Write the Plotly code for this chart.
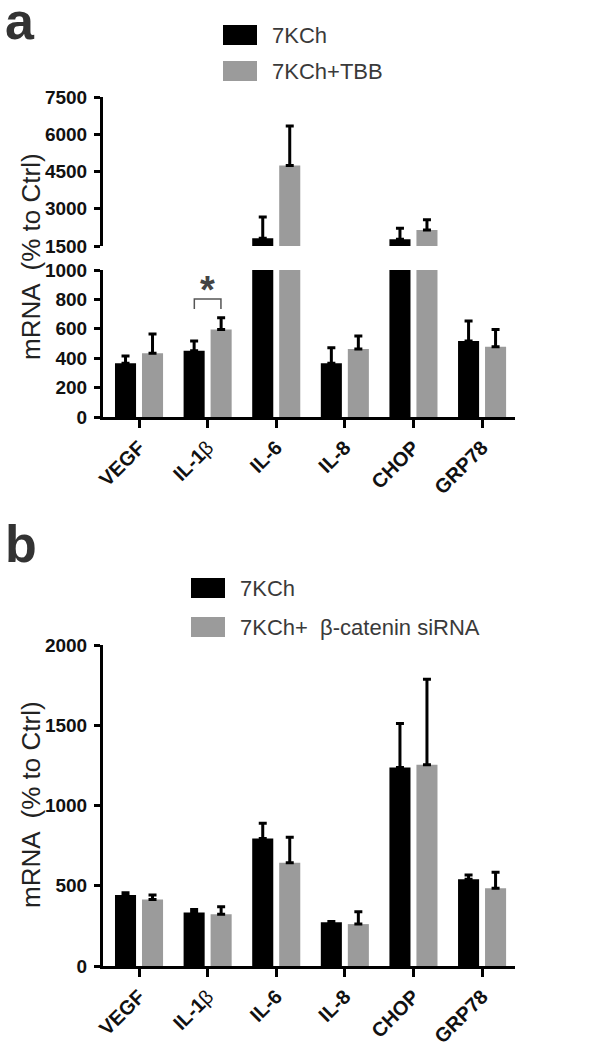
import plotly.graph_objects as go

W, H = 610, 1052

categories = ["VEGF", "IL-1β", "IL-6", "IL-8", "CHOP", "GRP78"]
tick_labels = ["VEGF", 'IL-1<span style="font-weight:normal">β</span>', "IL-6", "IL-8", "CHOP", "GRP78"]

# Panel a
a_7kch = [365, 451, 1812, 365, 1772, 517]
a_7kch_err = [50, 66, 851, 106, 446, 136]
a_tbb = [433, 596, 4743, 463, 2149, 478]
a_tbb_err = [132, 80, 1594, 88, 405, 118]

# Panel b
b_7kch = [442, 334, 794, 273, 1237, 540]
b_7kch_err = [14, 18, 96, 4, 274, 27]
b_si = [415, 323, 644, 261, 1254, 484]
b_si_err = [27, 46, 158, 77, 532, 100]

a_top_ticks = [1500, 3000, 4500, 6000, 7500]
a_bot_ticks = [0, 200, 400, 600, 800, 1000]
b_ticks = [0, 500, 1000, 1500, 2000]

BLACK = "#000000"
GRAY = "#9b9b9b"
FONT = "Liberation Sans, Arial, sans-serif"

def px(x):
    return x / W

def py(y):
    return 1 - y / H

xidx = list(range(len(categories)))

fig = go.Figure()

def add_pair(xa, ya, v1, e1, v2, e2, n1, n2):
    for vals, errs, col, name in ((v1, e1, BLACK, n1), (v2, e2, GRAY, n2)):
        fig.add_trace(go.Bar(
            x=xidx, y=vals, name=name, marker=dict(color=col, line=dict(width=0)),
            xaxis=xa, yaxis=ya, showlegend=False,
            error_y=dict(type="data", symmetric=False, array=errs,
                         arrayminus=[0] * len(errs), color=BLACK,
                         thickness=3, width=4),
        ))

add_pair("x", "y", a_7kch, a_7kch_err, a_tbb, a_tbb_err, "7KCh", "7KCh+TBB")
add_pair("x2", "y2", a_7kch, a_7kch_err, a_tbb, a_tbb_err, "7KCh", "7KCh+TBB")
add_pair("x3", "y3", b_7kch, b_7kch_err, b_si, b_si_err, "7KCh", "7KCh+ β-catenin siRNA")

xdom = [px(103), px(515)]
xrange = [-0.525, 5.48]
tickfont = dict(family=FONT, size=19, color="#111111", weight="bold")
xtickfont = dict(family=FONT, size=20, color="#111111", weight="bold")

def xaxis_visible(anchor):
    return dict(domain=xdom, range=xrange, anchor=anchor, tickmode="array",
                tickvals=xidx, ticktext=tick_labels, tickangle=-45,
                showline=True, linecolor=BLACK, linewidth=3,
                ticks="outside", ticklen=8, tickwidth=2.5, tickcolor=BLACK,
                tickfont=xtickfont, showgrid=False, zeroline=False, fixedrange=True,
                automargin=False)

def yaxis_def(dom, rng, ticks, anchor):
    return dict(domain=dom, range=rng, anchor=anchor, tickmode="array",
                tickvals=ticks, showline=True, linecolor=BLACK, linewidth=3,
                ticks="outside", ticklen=6, tickwidth=3, tickcolor=BLACK,
                tickfont=tickfont, showgrid=False, zeroline=False,
                ticklabelstandoff=3, automargin=False)

fig.update_layout(
    template="none",
    width=W, height=H,
    margin=dict(l=0, r=0, t=0, b=0, autoexpand=False),
    paper_bgcolor="white", plot_bgcolor="white",
    barmode="group", bargap=0.213, bargroupgap=0.22,
    xaxis=dict(domain=xdom, range=xrange, anchor="y", visible=False, automargin=False),
    yaxis=yaxis_def([py(246), py(97)], [1500, 7500], a_top_ticks, "x"),
    xaxis2=xaxis_visible("y2"),
    yaxis2=yaxis_def([py(417), py(270)], [0, 1000], a_bot_ticks, "x2"),
    xaxis3=xaxis_visible("y3"),
    yaxis3=yaxis_def([py(966), py(645)], [0, 2000], b_ticks, "x3"),
)

# significance bracket over IL-1β (panel a)
off = 0.194
fig.add_shape(type="path", xref="x2", yref="y2",
              path=f"M {1 - off},735 L {1 - off},803 L {1 + off},803 L {1 + off},735",
              line=dict(color="#555555", width=1.5))
fig.add_annotation(x=1, y=865, xref="x2", yref="y2", text="<b>*</b>", showarrow=False,
                   font=dict(family=FONT, size=38, color="#444444"), yanchor="middle")

# legends
def legend(items, x0, ys):
    for (label, col), yc in zip(items, ys):
        fig.add_shape(type="rect", xref="paper", yref="paper",
                      x0=px(x0), x1=px(x0 + 34), y0=py(yc - 10), y1=py(yc + 10),
                      fillcolor=col, line=dict(width=0))
        fig.add_annotation(x=px(x0 + 47), y=py(yc), xref="paper", yref="paper",
                           text=label, showarrow=False, xanchor="left", yanchor="middle",
                           font=dict(family=FONT, size=22, color="#3a3a3a"))

legend([("7KCh", BLACK), ("7KCh+TBB", GRAY)], 223, [35, 71])
legend([("7KCh", BLACK), ("7KCh+ \u00a0β-catenin siRNA", GRAY)], 191, [588, 627])

# panel letters
for letter, yc in (("a", 21), ("b", 544)):
    fig.add_annotation(x=px(3), y=py(yc), xref="paper", yref="paper", text=f"<b>{letter}</b>",
                       showarrow=False, xanchor="left", yanchor="middle",
                       font=dict(family=FONT, size=52, color="#333333"))

# y titles
for yc in (257, 805):
    fig.add_annotation(x=px(31), y=py(yc), xref="paper", yref="paper",
                       text="mRNA \u00a0(% to Ctrl)", textangle=-90, showarrow=False,
                       xanchor="center", yanchor="middle",
                       font=dict(family=FONT, size=26, color="#222222"))

fig.write_html(
    "out.html",
    config={"displayModeBar": False},
    post_script="document.body.style.margin='0';document.body.style.overflow='hidden';",
)
